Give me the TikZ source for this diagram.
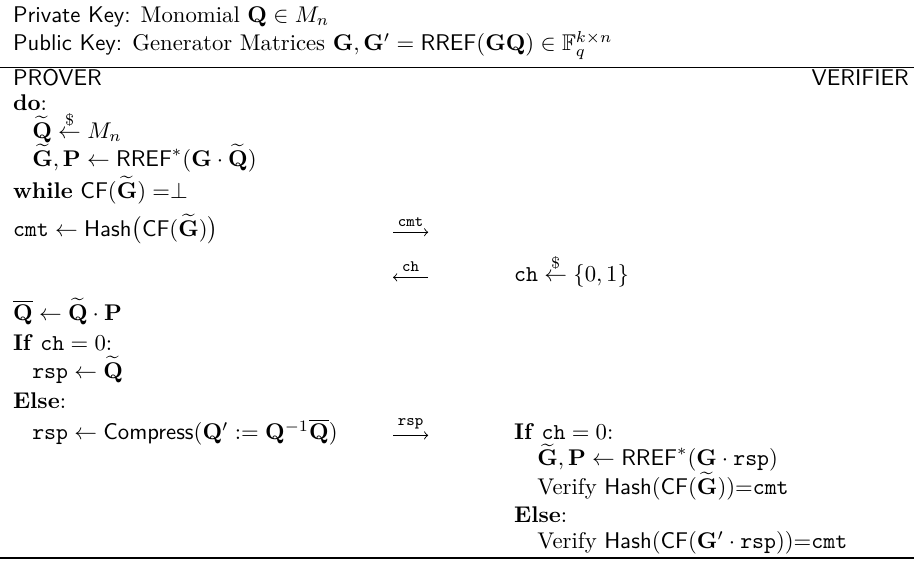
\documentclass[tikz,border=0pt]{standalone}
\usepackage{amsfonts, amssymb, amsmath}
\usepackage{tikz}

\begin{document}
\begin{tikzpicture}[scale=1.027,
    txt/.style={anchor=base west, inner sep=0pt},
    msg/.style={->},
    lbl/.style={above, inner sep=2.5pt, font=\scriptsize\ttfamily}]
    \useasboundingbox (0, 0) rectangle (13.77, 8.44);

    % Keys
    \node[txt] (priv) at (0.19, 8.10) {\textsf{Private Key:} Monomial $\mathbf{Q} \in M_n$};
    \node[txt] (pub) at (0.19, 7.68) {\textsf{Public Key:} Generator Matrices $\mathbf{G}, \mathbf{G}' = \mathsf{RREF}(\mathbf{G}\mathbf{Q}) \in \mathbb{F}_q^{k \times n}$};

    % Rules above and below
    \draw (0, 7.42) -- (13.77, 7.42);
    \draw[line width=0.8pt] (0, 0.03) -- (13.77, 0.03);

    % Parties
    \node[txt] (prover) at (0.19, 7.15) {\textsf{PROVER}};
    \node[anchor=base east, inner sep=0pt] (verifier) at (13.70, 7.15) {\textsf{VERIFIER}};

    % Commitment
    \node[txt] (do) at (0.19, 6.78) {\textbf{do}:};
    \node[txt] (sample) at (0.48, 6.36) {$\widetilde{\mathbf{Q}} \stackrel{\$}{\leftarrow} M_n$};
    \node[txt] (rref) at (0.48, 5.93) {$\widetilde{\mathbf{G}}, \mathbf{P} \leftarrow \mathsf{RREF}^*(\mathbf{G} \cdot \widetilde{\mathbf{Q}})$};
    \node[txt] (while) at (0.19, 5.45) {\textbf{while} $\mathsf{CF}(\widetilde{\mathbf{G}}) = \perp$};
    \node[txt] (cmt) at (0.19, 4.88) {$\mathtt{cmt} \leftarrow \mathsf{Hash}\big(\mathsf{CF}(\widetilde{\mathbf{G}})\big)$};

    % Challenge
    \node[txt] (chal) at (7.74, 4.20) {$\mathtt{ch} \stackrel{\$}{\leftarrow} \{0, 1\}$};

    % Response
    \node[txt] (qbar) at (0.19, 3.61) {$\overline{\mathbf{Q}} \leftarrow \widetilde{\mathbf{Q}} \cdot \mathbf{P}$};
    \node[txt] (pif) at (0.19, 3.16) {\textbf{If} $\mathtt{ch} = 0$:};
    \node[txt] (rsp0) at (0.48, 2.74) {$\mathtt{rsp} \leftarrow \widetilde{\mathbf{Q}}$};
    \node[txt] (pelse) at (0.19, 2.29) {\textbf{Else}:};
    \node[txt] (rsp1) at (0.48, 1.82) {$\mathtt{rsp} \leftarrow \mathsf{Compress}(\mathbf{Q}' := \mathbf{Q}^{-1}\overline{\mathbf{Q}})$};

    % Verification
    \node[txt] (vif) at (7.74, 1.82) {\textbf{If} $\mathtt{ch} = 0$:};
    \node[txt] (vrref) at (8.09, 1.42) {$\widetilde{\mathbf{G}}, \mathbf{P} \leftarrow \mathsf{RREF}^*(\mathbf{G} \cdot \mathtt{rsp})$};
    \node[txt] (vhash) at (8.09, 0.99) {Verify $\mathsf{Hash}(\mathsf{CF}(\widetilde{\mathbf{G}}))$=$\mathtt{cmt}$};
    \node[txt] (velse) at (7.74, 0.57) {\textbf{Else}:};
    \node[txt] (vhash2) at (8.09, 0.17) {Verify $\mathsf{Hash}(\mathsf{CF}(\mathbf{G}' \cdot \mathtt{rsp}))$=$\mathtt{cmt}$};

    % Messages
    \coordinate (cmtA) at (5.92, 4.94);
    \coordinate (cmtB) at (6.45, 4.94);
    \coordinate (chA) at (5.92, 4.26);
    \coordinate (chB) at (6.45, 4.26);
    \coordinate (rspA) at (5.92, 1.88);
    \coordinate (rspB) at (6.45, 1.88);
    \draw[msg] (cmtA) -- node[lbl] {cmt} (cmtB);
    \draw[msg] (chB) -- node[lbl] {ch} (chA);
    \draw[msg] (rspA) -- node[lbl] {rsp} (rspB);
\end{tikzpicture}
\end{document}
